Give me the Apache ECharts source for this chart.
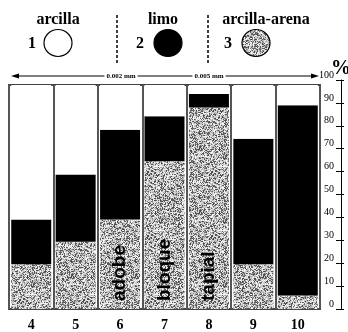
<!DOCTYPE html>
<html>
<head>
<meta charset="utf-8">
<script src="https://cdn.jsdelivr.net/npm/echarts@6/dist/echarts.min.js"></script>
<style>
  html, body { margin: 0; padding: 0; background: #fff; }
  #chart { width: 348px; height: 332px; }
</style>
</head>
<body>
<div id="chart"></div>
<script>
// muestras 4..10
const categories = ['4', '5', '6', '7', '8', '9', '10'];
// % arcilla-arena (abajo), limo (medio), arcilla (arriba)
const arenaVals = [20, 30, 40, 66, 90, 20, 6];
const limoVals = [20, 30, 40, 20, 6, 56, 85];
const arcillaVals = [60, 40, 20, 14, 4, 24, 9];
const barTexts = ['', '', 'adobe', 'bloque', 'tapial', '', ''];
const legendNames = ['arcilla', 'limo', 'arcilla-arena'];

const serif = 'Liberation Serif';

// textura granulada para la arena
function makeGrain() {
  const c = document.createElement('canvas');
  c.width = 64; c.height = 64;
  const ctx = c.getContext('2d');
  const img = ctx.createImageData(64, 64);
  let s = 12345;
  for (let i = 0; i < 64 * 64; i++) {
    s = (s * 1103515245 + 12345) & 0x7fffffff;
    const r = (s >> 8) & 255;
    const v = r < 85 ? 70 + (r % 60) : 170 + (r % 85);
    img.data[i * 4] = v;
    img.data[i * 4 + 1] = v;
    img.data[i * 4 + 2] = v;
    img.data[i * 4 + 3] = 255;
  }
  ctx.putImageData(img, 0, 0);
  return c;
}
const grain = { image: makeGrain(), repeat: 'repeat' };

const chart = echarts.init(document.getElementById('chart'));

const arenaData = barTexts.map((t, i) => ({
  value: arenaVals[i],
  label: {
    show: t !== '',
    formatter: t,
    position: 'insideBottom',
    rotate: 90,
    align: 'left',
    verticalAlign: 'middle',
    distance: 8,
    fontFamily: 'Liberation Sans',
    fontWeight: 'bold',
    fontSize: 19,
    color: '#000'
  }
}));

const legendX = [58, 163, 266];
const circleX = [58, 168, 256];
const numX = [32, 140, 228];
const fills = ['#fff', '#000', grain];

let graphics = [];
legendNames.forEach((n, i) => {
  graphics.push({
    type: 'text', x: legendX[i], y: 20,
    style: { text: n, font: 'bold 16px ' + serif, fill: '#000', textAlign: 'center', textVerticalAlign: 'middle' }
  });
  graphics.push({
    type: 'text', x: numX[i], y: 44,
    style: { text: String(i + 1), font: 'bold 16px ' + serif, fill: '#000', textAlign: 'center', textVerticalAlign: 'middle' }
  });
  graphics.push({
    type: 'ellipse',
    shape: { cx: circleX[i], cy: 43, rx: 14, ry: 13.5 },
    style: { fill: fills[i], stroke: '#000', lineWidth: 1.2 }
  });
});
[117, 208].forEach(x => {
  graphics.push({
    type: 'line', shape: { x1: x, y1: 15, x2: x, y2: 65 },
    style: { stroke: '#000', lineWidth: 1.5, lineDash: [3, 2] }
  });
});
// flecha de tamaños
graphics.push({
  type: 'line', shape: { x1: 14, y1: 76, x2: 316, y2: 76 },
  style: { stroke: '#000', lineWidth: 1 }
});
graphics.push({ type: 'polygon', shape: { points: [[11, 76], [19, 73.5], [19, 78.5]] }, style: { fill: '#000' } });
graphics.push({ type: 'polygon', shape: { points: [[319, 76], [311, 73.5], [311, 78.5]] }, style: { fill: '#000' } });
[['0.002 mm', 121], ['0.005 mm', 209]].forEach(([t, x]) => {
  graphics.push({
    type: 'text', x: x, y: 76,
    style: { text: t, font: 'bold 7px ' + serif, fill: '#000', backgroundColor: '#fff', padding: [0, 2], textAlign: 'center', textVerticalAlign: 'middle' }
  });
});
graphics.push({
  type: 'text', x: 341, y: 69,
  style: { text: '%', font: 'bold 20px ' + serif, fill: '#000', textAlign: 'center', textVerticalAlign: 'middle' }
});

const option = {
  animation: false,
  grid: [
    { left: 9, right: 28, top: 85, bottom: 22, show: true, borderColor: '#444', borderWidth: 2 },
    { left: 200, right: 7, top: 80, bottom: 23 }
  ],
  xAxis: [
    {
      type: 'category', data: categories, gridIndex: 0,
      axisLine: { show: false }, axisTick: { show: false },
      splitLine: { show: true, lineStyle: { color: '#555', width: 2 } },
      axisLabel: { color: '#000', fontFamily: serif, fontWeight: 'bold', fontSize: 14, margin: 9 }
    },
    { type: 'category', data: categories, gridIndex: 1, show: false }
  ],
  yAxis: [
    { type: 'value', gridIndex: 0, min: 0, max: 100, show: false },
    {
      type: 'value', gridIndex: 1, min: 0, max: 100, interval: 10, position: 'right',
      axisLine: { show: true, lineStyle: { color: '#000', width: 1 } },
      axisTick: { show: true, inside: true, length: 5, lineStyle: { color: '#000' } },
      axisLabel: { inside: true, margin: 7, color: '#000', fontFamily: serif, fontSize: 10, verticalAlign: 'bottom' },
      splitLine: { show: false }
    },
    {
      type: 'value', gridIndex: 1, min: 0, max: 100, interval: 10, position: 'right',
      axisLine: { show: false },
      axisTick: { show: true, length: 3, lineStyle: { color: '#000' } },
      axisLabel: { show: false },
      splitLine: { show: false }
    }
  ],
  series: [
    {
      name: 'arcilla-arena', type: 'bar', stack: 'p', data: arenaData,
      barWidth: '90%', itemStyle: { color: grain }
    },
    {
      name: 'limo', type: 'bar', stack: 'p', data: limoVals,
      barWidth: '90%', itemStyle: { color: '#000' }
    },
    {
      name: 'arcilla', type: 'bar', stack: 'p', data: arcillaVals,
      barWidth: '90%', itemStyle: { color: '#fff' }
    }
  ],
  graphic: graphics
};

chart.setOption(option);
</script>
</body>
</html>
